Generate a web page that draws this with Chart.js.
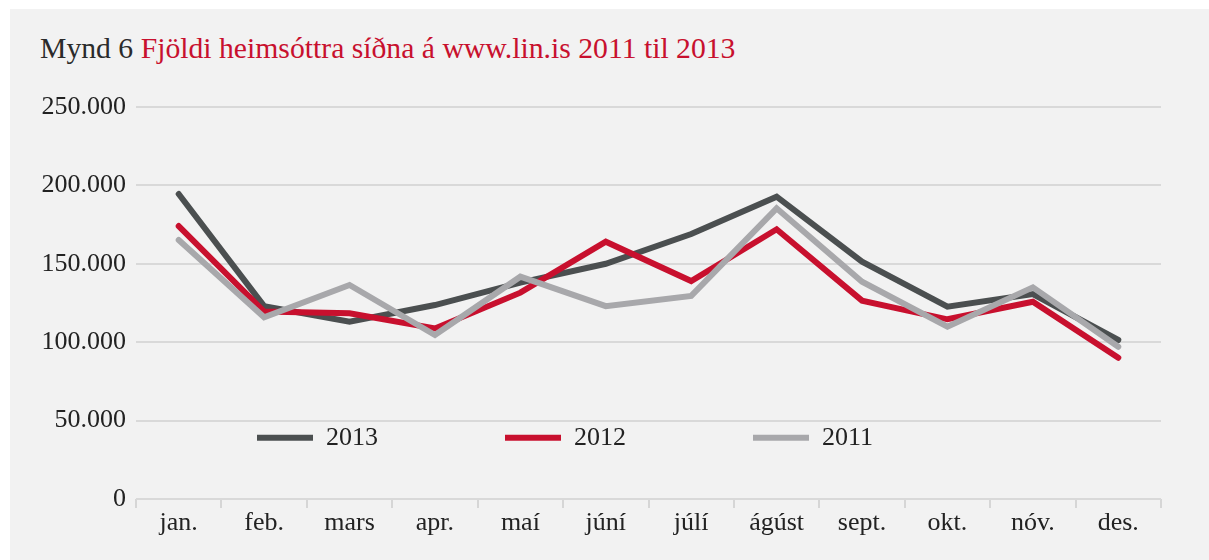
<!DOCTYPE html>
<html>
<head>
<meta charset="utf-8">
<script src="https://cdn.jsdelivr.net/npm/chart.js@4/dist/chart.umd.min.js"></script>
<style>
  body { margin: 0; background: #fff; }
  #wrap { position: relative; width: 1209px; height: 560px; overflow: hidden; }
  #panel { position: absolute; left: 10px; top: 9px; right: 0; bottom: 0; background: #f2f2f2; }
  #title { position: absolute; left: 40px; top: 32px; font-family: 'Liberation Serif', serif; font-size: 29.7px; color: #2b2b2b; white-space: nowrap; }
  #title span { color: #c8102e; }
  canvas { position: absolute; left: 0; top: 0; }
</style>
</head>
<body>
<div id="wrap">
  <div id="panel"></div>
  <div id="title">Mynd 6 <span>Fjöldi heimsóttra síðna á www.lin.is 2011 til 2013</span></div>
  <canvas id="mynd6" width="1209" height="560"></canvas>
</div>
<script>
  // gögn
  const manudir = ['jan.','feb.','mars','apr.','maí','júní','júlí','ágúst','sept.','okt.','nóv.','des.'];
  const ar2013 = [194500,123000,113000,123700,138000,150000,169000,192800,151400,122700,130700,101400];
  const ar2012 = [174100,119500,118400,108800,131600,164100,139000,172000,126500,114600,125800,90100];
  const ar2011 = [165200,115900,136500,104600,141800,123000,129500,185400,138600,109900,135000,97100];
  const yMax = 250000;
  const yStep = 50000;

  const letur = "'Liberation Serif', serif";
  Chart.defaults.font.family = letur;
  Chart.defaults.color = '#222';

  const punktar = (v) => String(v).replace(/\B(?=(\d{3})+(?!\d))/g, '.');

  // faera skyringar inn i teiknisvaedid
  const skyringar = {
    id: 'skyringar',
    beforeDraw(chart) {
      const lg = chart.legend;
      const pad = lg.options.labels.padding;
      const h = lg.height;
      const w = lg.width;
      const midja = chart.scales.y.getPixelForValue(39000);
      lg.left = chart.scales.x.left + 121 - pad;
      lg.right = lg.left + w;
      lg.top = midja - 13 - pad;
      lg.bottom = lg.top + h;
    }
  };

  const lina = (label, data, color) => ({
    label: label,
    data: data,
    borderColor: color,
    backgroundColor: color,
    borderWidth: 6,
    borderCapStyle: 'round',
    borderJoinStyle: 'miter',
    pointRadius: 0,
    tension: 0
  });

  new Chart(document.getElementById('mynd6'), {
    type: 'line',
    data: {
      labels: manudir,
      datasets: [
        lina('2011', ar2011, '#a8a8ab'),
        lina('2012', ar2012, '#c8102e'),
        lina('2013', ar2013, '#4b4f50')
      ]
    },
    plugins: [skyringar],
    options: {
      responsive: false,
      animation: false,
      layout: { padding: { left: 10, right: 48, top: 107, bottom: 10 } },
      plugins: {
        tooltip: { enabled: false },
        legend: {
          position: 'chartArea',
          align: 'start',
          reverse: true,
          labels: {
            usePointStyle: true,
            pointStyle: 'line',
            pointStyleWidth: 56,
            padding: 127,
            color: '#222',
            font: { size: 26 }
          }
        }
      },
      scales: {
        x: {
          offset: true,
          grid: { offset: true, drawOnChartArea: false, drawTicks: true, tickLength: 9, color: '#d6d6d6', lineWidth: 2 },
          border: { display: false },
          ticks: { padding: 0, font: { size: 26 }, color: '#222' },
          afterFit: (s) => { s.height = 51; }
        },
        y: {
          min: 0,
          max: yMax,
          grid: { drawTicks: false, color: '#d9d9d9', lineWidth: 2 },
          border: { display: false },
          ticks: { stepSize: yStep, padding: 10, font: { size: 26 }, color: '#222', callback: (v) => punktar(v) },
          afterFit: (s) => { s.width = 126; }
        }
      }
    }
  });
</script>
</body>
</html>
